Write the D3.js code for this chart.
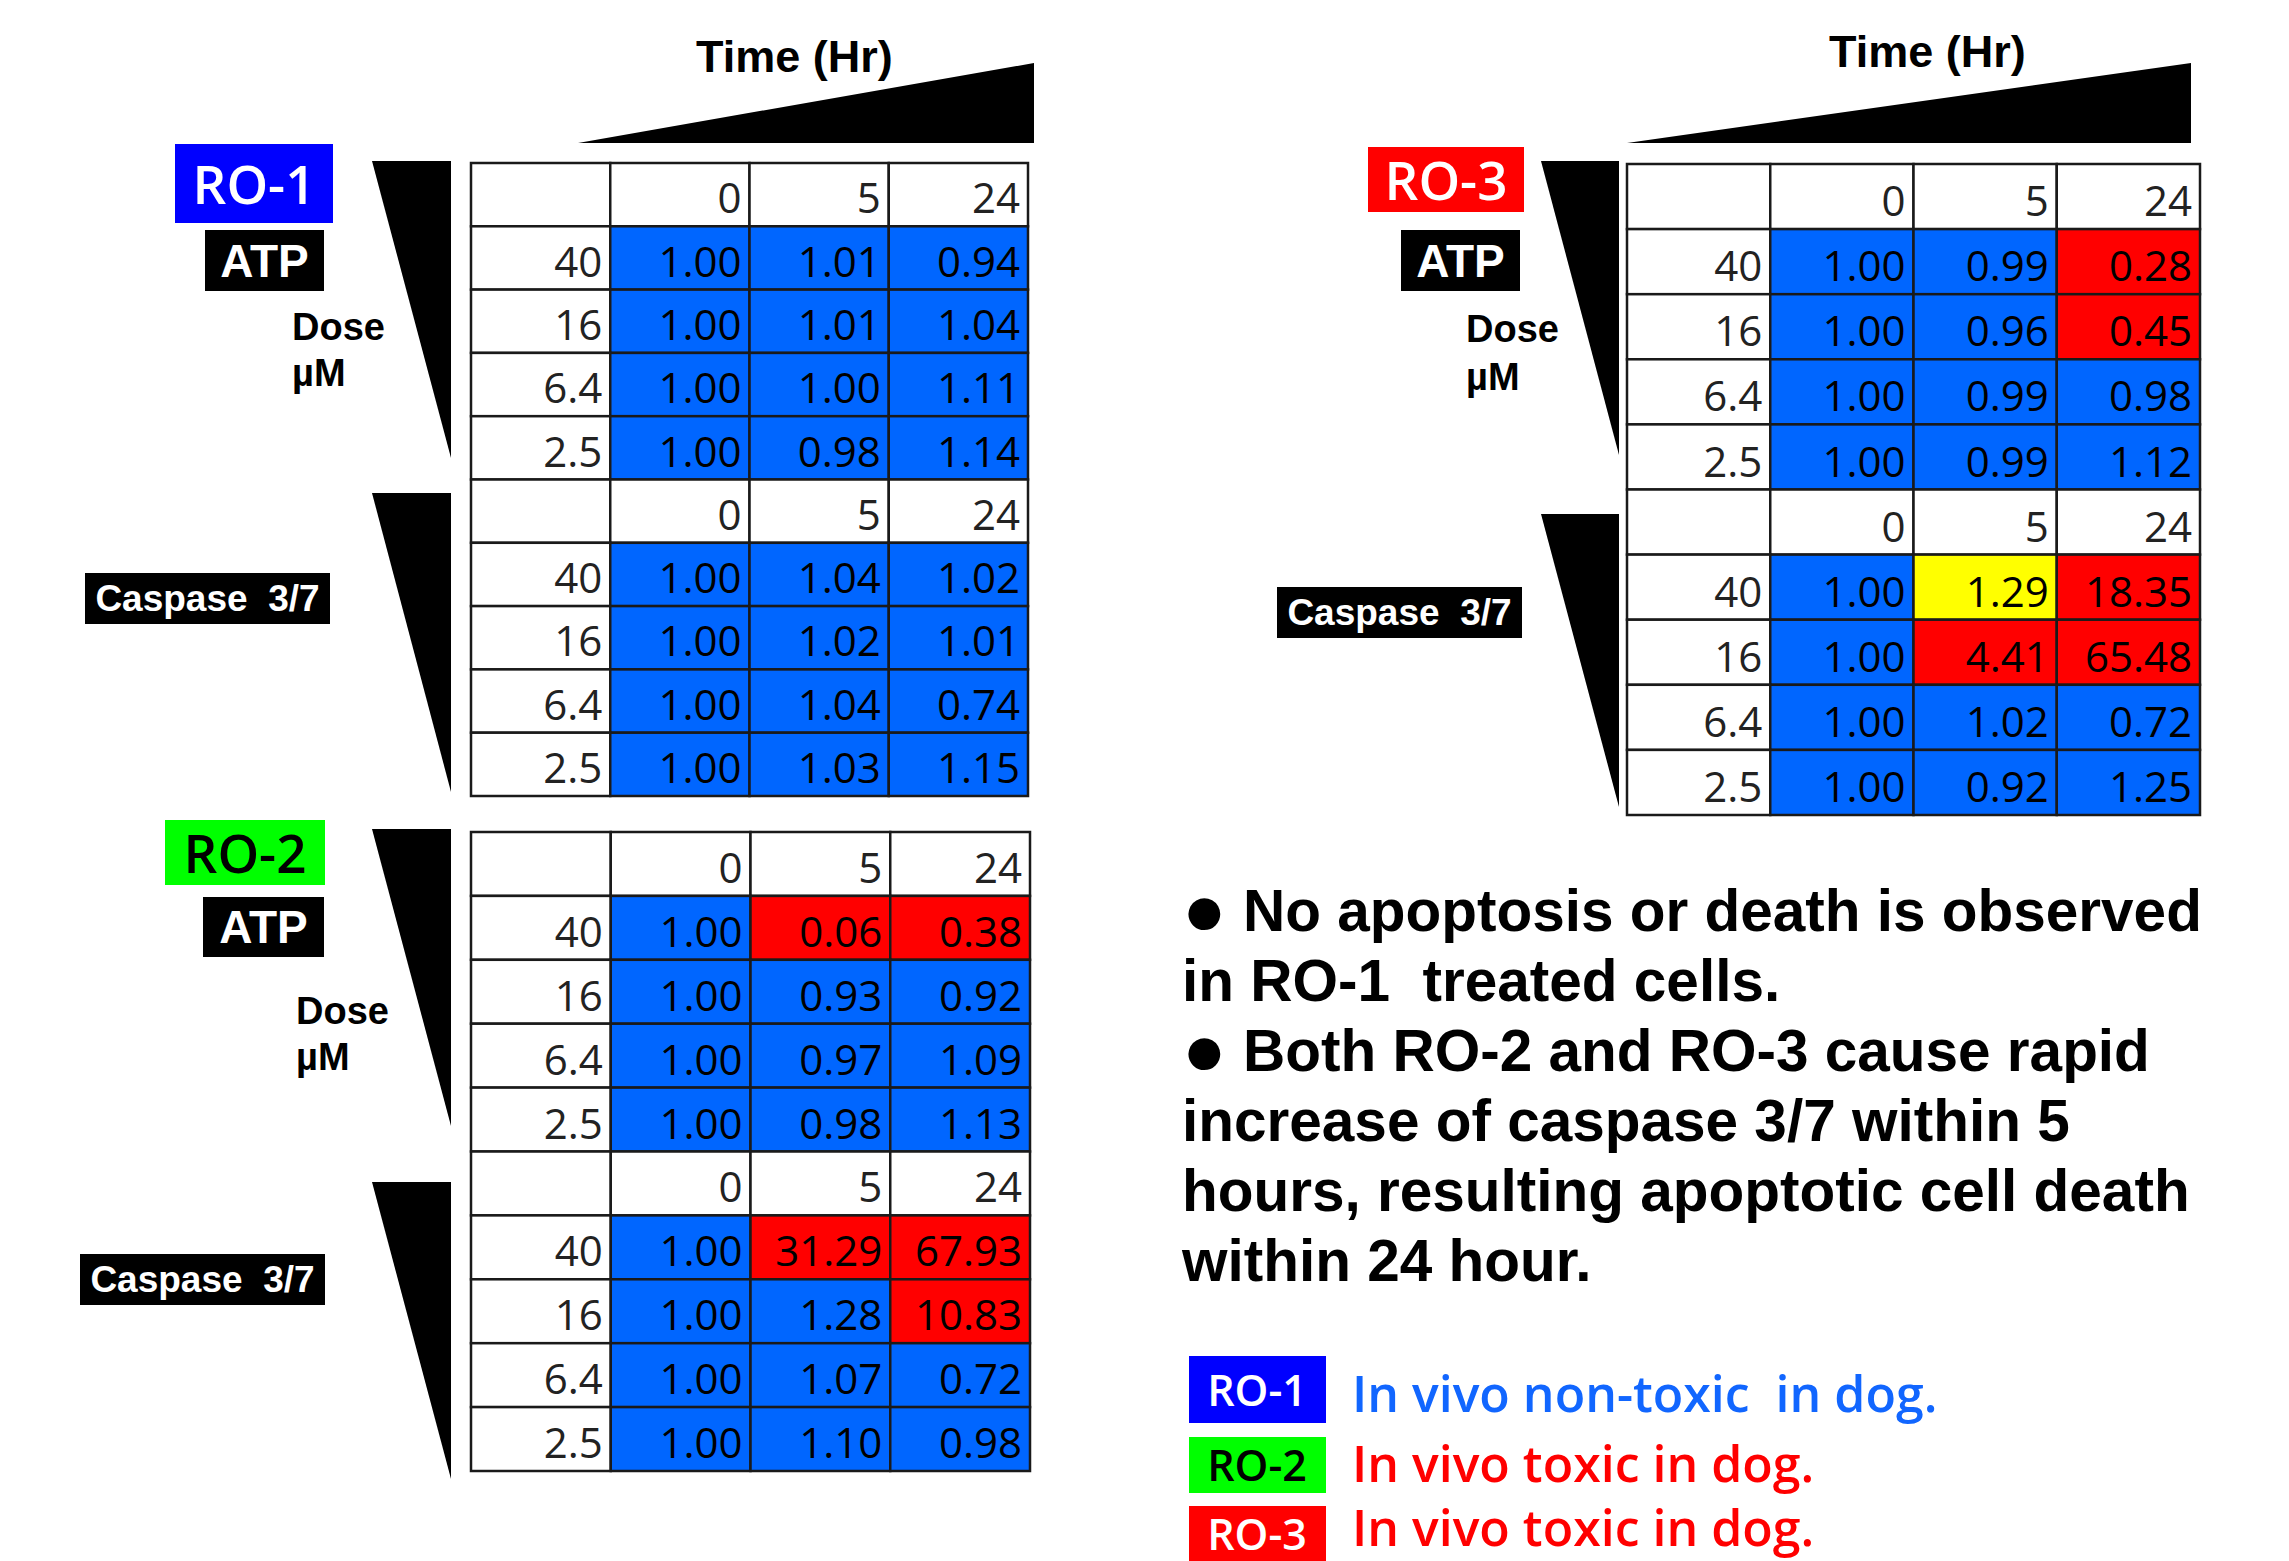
<!DOCTYPE html>
<html>
<head>
<meta charset="utf-8">
<script src="https://cdn.jsdelivr.net/npm/d3@7"></script>
<style>
  body { margin: 0; background: #fff; }
  text { white-space: pre; }
</style>
</head>
<body>
<div id="chart"></div>
<script>
// column / row headers
var times = ["0", "5", "24"];
var doses = ["40", "16", "6.4", "2.5"];

// fold change vs 0 hr, rows = doses, cols = times
var ro1_atp  = [[1.00, 1.01, 0.94], [1.00, 1.01, 1.04], [1.00, 1.00, 1.11], [1.00, 0.98, 1.14]];
var ro1_casp = [[1.00, 1.04, 1.02], [1.00, 1.02, 1.01], [1.00, 1.04, 0.74], [1.00, 1.03, 1.15]];
var ro2_atp  = [[1.00, 0.06, 0.38], [1.00, 0.93, 0.92], [1.00, 0.97, 1.09], [1.00, 0.98, 1.13]];
var ro2_casp = [[1.00, 31.29, 67.93], [1.00, 1.28, 10.83], [1.00, 1.07, 0.72], [1.00, 1.10, 0.98]];
var ro3_atp  = [[1.00, 0.99, 0.28], [1.00, 0.96, 0.45], [1.00, 0.99, 0.98], [1.00, 0.99, 1.12]];
var ro3_casp = [[1.00, 1.29, 18.35], [1.00, 4.41, 65.48], [1.00, 1.02, 0.72], [1.00, 0.92, 1.25]];

// cell status: n = normal, t = toxic, w = warning
var ro1_atp_flag  = [["n","n","n"], ["n","n","n"], ["n","n","n"], ["n","n","n"]];
var ro1_casp_flag = [["n","n","n"], ["n","n","n"], ["n","n","n"], ["n","n","n"]];
var ro2_atp_flag  = [["n","t","t"], ["n","n","n"], ["n","n","n"], ["n","n","n"]];
var ro2_casp_flag = [["n","t","t"], ["n","n","t"], ["n","n","n"], ["n","n","n"]];
var ro3_atp_flag  = [["n","n","t"], ["n","n","t"], ["n","n","n"], ["n","n","n"]];
var ro3_casp_flag = [["n","w","t"], ["n","t","t"], ["n","n","n"], ["n","n","n"]];

var compounds = ["RO-1", "RO-2", "RO-3"];
var compound_notes = ["In vivo non-toxic  in dog.", "In vivo toxic in dog.", "In vivo toxic in dog."];

var notes = [
  "\u25CF No apoptosis or death is observed",
  "in RO-1  treated cells.",
  "\u25CF Both RO-2 and RO-3 cause rapid",
  "increase of caspase 3/7 within 5",
  "hours, resulting apoptotic cell death",
  "within 24 hour."
];

var cellColor = {n: "#0066ff", t: "#ff0000", w: "#ffff00"};
var compoundFill = ["#0000ff", "#00ff00", "#ff0000"];
var compoundInk = ["#ffffff", "#000000", "#ffffff"];
var noteInk = ["#1166ff", "#ff0000", "#ff0000"];

var numFont = "'Open Sans', 'Noto Sans', sans-serif";
var boldFont = "'Liberation Sans', Arial, sans-serif";

var svg = d3.select("#chart").append("svg")
  .attr("width", 2289)
  .attr("height", 1561)
  .style("display", "block");

var panels = [
  {idx: 0, atp: ro1_atp, casp: ro1_casp, atpFlag: ro1_atp_flag, caspFlag: ro1_casp_flag,
   table: [471, 1028, 163, 796], time: [578, 1034, 63, 143], timeText: [696, 72],
   label: [175, 144, 158, 79], atpBox: [205, 230, 119, 61], dose: [292, 340, 386],
   caspBox: [85, 573, 245, 51], wedge1: [372, 451, 161, 458], wedge2: [372, 451, 493, 792]},
  {idx: 1, atp: ro2_atp, casp: ro2_casp, atpFlag: ro2_atp_flag, caspFlag: ro2_casp_flag,
   table: [471, 1030, 832, 1471], time: null, timeText: null,
   label: [165, 820, 160, 65], atpBox: [203, 897, 121, 60], dose: [296, 1024, 1070],
   caspBox: [80, 1254, 245, 51], wedge1: [372, 451, 829, 1126], wedge2: [372, 451, 1182, 1479]},
  {idx: 2, atp: ro3_atp, casp: ro3_casp, atpFlag: ro3_atp_flag, caspFlag: ro3_casp_flag,
   table: [1627, 2200, 164, 815], time: [1627, 2191, 63, 143], timeText: [1829, 67],
   label: [1368, 147, 156, 65], atpBox: [1401, 230, 119, 61], dose: [1466, 342, 390],
   caspBox: [1277, 587, 245, 51], wedge1: [1541, 1619, 161, 455], wedge2: [1541, 1619, 514, 807]}
];

panels.forEach(draw_panel);
draw_notes();
draw_legend();

function draw_panel(p) {
  var g = svg.append("g");

  // rows: header, 4 doses (ATP), header, 4 doses (caspase)
  var rows = [];
  rows.push({head: true});
  doses.forEach(function(d, i) { rows.push({dose: d, vals: p.atp[i], flags: p.atpFlag[i]}); });
  rows.push({head: true});
  doses.forEach(function(d, i) { rows.push({dose: d, vals: p.casp[i], flags: p.caspFlag[i]}); });

  var x = d3.scaleBand().domain(["dose"].concat(times)).range([p.table[0], p.table[1]]);
  var y = d3.scaleBand().domain(d3.range(rows.length)).range([p.table[2], p.table[3]]);

  var cells = [];
  rows.forEach(function(r, ri) {
    cells.push({ri: ri, col: "dose", text: r.head ? "" : r.dose, fill: "#fff"});
    times.forEach(function(t, ci) {
      if (r.head) cells.push({ri: ri, col: t, text: t, fill: "#fff"});
      else cells.push({ri: ri, col: t, text: r.vals[ci].toFixed(2), fill: cellColor[r.flags[ci]], val: true});
    });
  });

  g.selectAll("rect.cell")
    .data(cells)
    .join("rect")
      .attr("class", "cell")
      .attr("x", d => x(d.col))
      .attr("y", d => y(d.ri))
      .attr("width", x.bandwidth())
      .attr("height", y.bandwidth())
      .attr("fill", d => d.fill)
      .attr("stroke", "#1a1a1a")
      .attr("stroke-width", 2.5);

  g.selectAll("text.cell")
    .data(cells)
    .join("text")
      .attr("class", "cell")
      .attr("x", d => x(d.col) + x.bandwidth() - 8)
      .attr("y", d => y(d.ri) + y.bandwidth() - 13)
      .attr("text-anchor", "end")
      .attr("font-family", numFont)
      .attr("font-size", 42)
      .attr("fill", d => d.val ? "#000" : "#222")
      .text(d => d.text);

  // time wedge
  if (p.time) {
    g.append("path")
      .attr("d", d3.line()([[p.time[0], p.time[3]], [p.time[1], p.time[2]], [p.time[1], p.time[3]]]) + "Z")
      .attr("fill", "#000");
    g.append("text")
      .attr("x", p.timeText[0])
      .attr("y", p.timeText[1])
      .attr("font-family", boldFont)
      .attr("font-weight", "bold")
      .attr("font-size", 45)
      .text("Time (Hr)");
  }

  // dose wedges
  [p.wedge1, p.wedge2].forEach(function(w) {
    g.append("path")
      .attr("d", d3.line()([[w[0], w[2]], [w[1], w[2]], [w[1], w[3]]]) + "Z")
      .attr("fill", "#000");
  });

  // compound label
  var lb = p.label;
  g.append("rect")
    .attr("x", lb[0]).attr("y", lb[1]).attr("width", lb[2]).attr("height", lb[3])
    .attr("fill", compoundFill[p.idx]);
  g.append("text")
    .attr("x", lb[0] + lb[2] / 2)
    .attr("y", lb[1] + lb[3] / 2 + 20)
    .attr("text-anchor", "middle")
    .attr("font-family", numFont)
    .attr("font-weight", 600)
    .attr("font-size", 53)
    .attr("fill", compoundInk[p.idx])
    .text(compounds[p.idx]);

  black_box(g, p.atpBox, "ATP", 46, 16);
  black_box(g, p.caspBox, "Caspase  3/7", 37, 12);

  g.append("text")
    .attr("x", p.dose[0]).attr("y", p.dose[1])
    .attr("font-family", boldFont).attr("font-weight", "bold").attr("font-size", 38)
    .text("Dose");
  g.append("text")
    .attr("x", p.dose[0]).attr("y", p.dose[2])
    .attr("font-family", boldFont).attr("font-weight", "bold").attr("font-size", 38)
    .text("\u00B5M");
}

function black_box(g, b, label, size, off) {
  g.append("rect")
    .attr("x", b[0]).attr("y", b[1]).attr("width", b[2]).attr("height", b[3])
    .attr("fill", "#000");
  g.append("text")
    .attr("x", b[0] + b[2] / 2)
    .attr("y", b[1] + b[3] / 2 + off)
    .attr("text-anchor", "middle")
    .attr("font-family", boldFont)
    .attr("font-weight", "bold")
    .attr("font-size", size)
    .attr("fill", "#fff")
    .text(label);
}

function draw_notes() {
  var y = d3.scalePoint().domain(d3.range(notes.length)).range([931, 1281]);
  var t = svg.append("g")
    .selectAll("text")
    .data(notes)
    .join("text")
      .attr("x", 1182)
      .attr("y", (d, i) => y(i))
      .attr("font-family", boldFont)
      .attr("font-weight", "bold")
      .attr("font-size", 58.5);

  t.each(function(d) {
    var el = d3.select(this);
    if (d.charAt(0) === "\u25CF") {
      el.append("tspan").attr("font-size", 74).attr("dy", 4).text("\u25CF");
      el.append("tspan").attr("dy", -4).text(d.slice(1));
    } else {
      el.text(d);
    }
  });
}

function draw_legend() {
  var boxes = [[1356, 67], [1437, 56], [1506, 55]];
  var base = [1412, 1482, 1546];
  var g = svg.append("g");
  compounds.forEach(function(c, i) {
    var r = boxes[i];
    g.append("rect")
      .attr("x", 1189).attr("y", r[0]).attr("width", 137).attr("height", r[1])
      .attr("fill", compoundFill[i]);
    g.append("text")
      .attr("x", 1257)
      .attr("y", r[0] + r[1] / 2 + 16)
      .attr("text-anchor", "middle")
      .attr("font-family", numFont)
      .attr("font-weight", 600)
      .attr("font-size", 43)
      .attr("fill", compoundInk[i])
      .text(c);
    g.append("text")
      .attr("x", 1352)
      .attr("y", base[i])
      .attr("font-family", numFont)
      .attr("font-weight", 600)
      .attr("font-size", 50)
      .attr("fill", noteInk[i])
      .text(compound_notes[i]);
  });
}
</script>
</body>
</html>
